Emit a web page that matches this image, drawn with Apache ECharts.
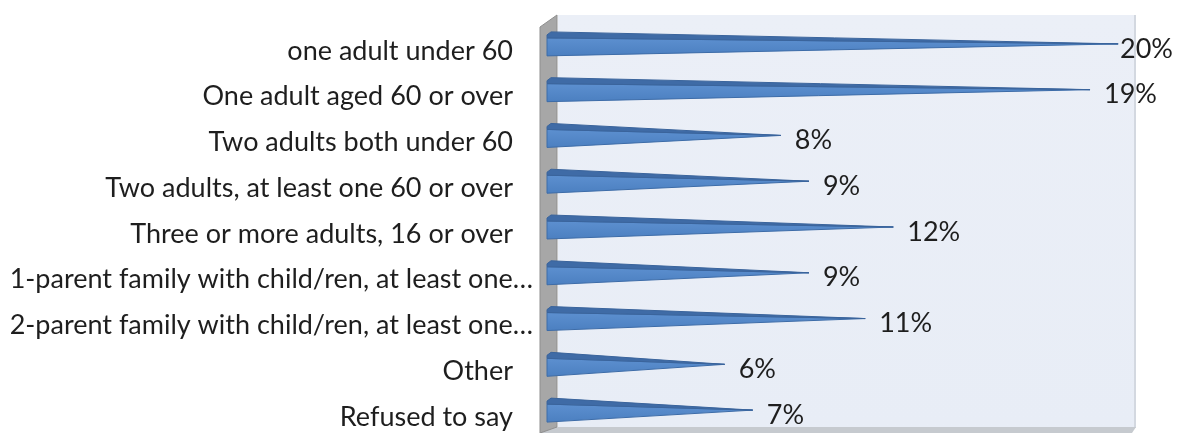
<!DOCTYPE html>
<html>
<head>
<meta charset="utf-8">
<script src="https://cdn.jsdelivr.net/npm/echarts@6/dist/echarts.min.js"></script>
<style>
  html, body { margin: 0; padding: 0; background: #ffffff; }
  #chart { width: 1180px; height: 433px; }
</style>
</head>
<body>
<div id="chart"></div>
<script>
// Household composition, share of respondents (%)
const categories = [
  'one adult under 60',
  'One adult aged 60 or over',
  'Two adults both under 60',
  'Two adults, at least one 60 or over',
  'Three or more adults, 16 or over',
  '1-parent family with child/ren, at least one…',
  '2-parent family with child/ren, at least one…',
  'Other',
  'Refused to say'
];
const shares = [20, 19, 8, 9, 12, 9, 11, 6, 7];

const FONT = 'Lato, "Open Sans", sans-serif';
const FONT_SIZE = 27;
const TEXT = '#1e1e1e';

const chart = echarts.init(document.getElementById('chart'), null, { renderer: 'canvas' });

// Pyramid-shaped bar: a light front face and a darker top face meeting at the tip
function renderPyramid(params, api) {
  const cat = api.value(0);
  const v = api.value(1);
  const tip = api.coord([v, cat]);
  const base = api.coord([0, cat]);
  const band = api.size([0, 1])[1];
  const x0 = base[0] - 9;
  const yc = tip[1];
  const half = band * 0.262;
  const step = band * 0.131;

  const front = [[x0, yc - step], [x0, yc + half], [tip[0], yc]];
  const top = [[x0, yc - step], [x0, yc - half + 3], [x0 + 4, yc - half], [tip[0], yc]];
  const labelX = Math.min(tip[0] + 14, api.getWidth() - 60);

  return {
    type: 'group',
    children: [
      {
        type: 'polygon',
        shape: { points: front },
        style: {
          fill: new echarts.graphic.LinearGradient(0, 0, 0, 1, [
            { offset: 0, color: '#5d90d0' },
            { offset: 1, color: '#4b7fc0' }
          ]),
          stroke: '#3d6ca8',
          lineWidth: 1
        }
      },
      {
        type: 'polygon',
        shape: { points: top },
        style: { fill: '#3f6ba6', stroke: '#3a649c', lineWidth: 1 }
      },
      {
        type: 'text',
        style: {
          text: v + '%',
          x: labelX,
          y: yc + 5,
          verticalAlign: 'middle',
          align: 'left',
          fill: TEXT,
          font: FONT_SIZE + 'px ' + FONT
        }
      }
    ]
  };
}

const option = {
  backgroundColor: '#ffffff',
  animation: false,
  // 3D-style walls behind the bars
  graphic: [
    {
      type: 'rect', z: -5,
      shape: { x: 558, y: 15, width: 577, height: 413 },
      style: {
        fill: new echarts.graphic.LinearGradient(0, 0, 0, 1, [
          { offset: 0, color: '#ebeff7' },
          { offset: 1, color: '#e8edf6' }
        ])
      }
    },
    {
      type: 'line', z: -4,
      shape: { x1: 1135, y1: 15, x2: 1135, y2: 428 },
      style: { stroke: '#d3d8e0', lineWidth: 2 }
    },
    {
      type: 'polygon', z: -4,
      shape: { points: [[540, 433], [556, 427], [1136, 427], [1132, 433]] },
      style: { fill: '#c6cacf' }
    },
    {
      type: 'polygon', z: -3,
      shape: { points: [[540, 27], [557, 15], [557, 427], [540, 433]] },
      style: { fill: '#a7a7a7', stroke: '#8f8f8f', lineWidth: 1 }
    }
  ],
  grid: { left: 556, right: 45, top: 21, bottom: 0, containLabel: false },
  xAxis: {
    type: 'value',
    min: 0,
    max: 20.6,
    show: false
  },
  yAxis: {
    type: 'category',
    data: categories,
    inverse: true,
    axisLine: { show: false },
    axisTick: { show: false },
    splitLine: { show: false },
    axisLabel: {
      margin: 23,
      color: TEXT,
      fontFamily: FONT,
      fontSize: FONT_SIZE,
      padding: [14, 0, 0, 0],
      formatter: function (name) {
        return name.endsWith('…') ? '{cut|' + name + '}' : '{full|' + name + '}';
      },
      rich: {
        full: { color: TEXT, fontFamily: FONT, fontSize: FONT_SIZE, padding: [0, 20, 0, 0] },
        cut: { color: TEXT, fontFamily: FONT, fontSize: FONT_SIZE }
      }
    }
  },
  series: [{
    type: 'custom',
    renderItem: renderPyramid,
    encode: { x: 1, y: 0 },
    data: shares.map((s, i) => [i, s])
  }]
};

chart.setOption(option);
</script>
</body>
</html>
